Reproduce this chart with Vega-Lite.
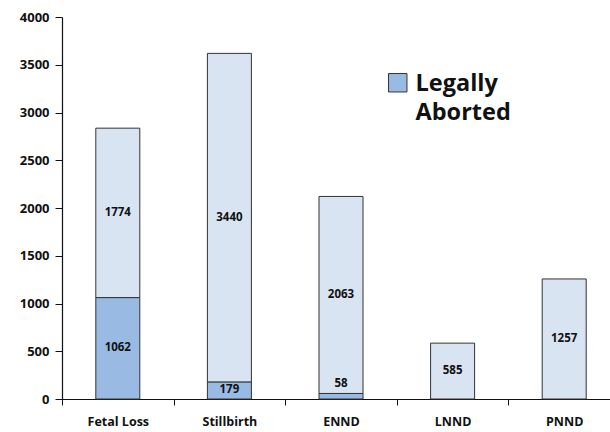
{
  "$schema": "https://vega.github.io/schema/vega-lite/v6.json",
  "width": 548,
  "height": 382,
  "autosize": {"type": "none"},
  "padding": {"left": 62, "top": 17, "right": 0, "bottom": 33},
  "background": "white",
  "config": {
    "view": {"stroke": null},
    "font": "Open Sans",
    "axis": {"labelFont": "Open Sans", "labelFontWeight": "bold", "labelColor": "#111", "domainColor": "#111", "tickColor": "#111", "grid": false, "title": null}
  },
  "data": {
    "values": [
      {"cause": "Fetal Loss", "group": "Legally Aborted", "value": 1062, "ord": 1},
      {"cause": "Fetal Loss", "group": "Other", "value": 1774, "ord": 2},
      {"cause": "Stillbirth", "group": "Legally Aborted", "value": 179, "ord": 1},
      {"cause": "Stillbirth", "group": "Other", "value": 3440, "ord": 2},
      {"cause": "ENND", "group": "Legally Aborted", "value": 58, "ord": 1},
      {"cause": "ENND", "group": "Other", "value": 2063, "ord": 2},
      {"cause": "LNND", "group": "Other", "value": 585, "ord": 2},
      {"cause": "PNND", "group": "Other", "value": 1257, "ord": 2}
    ]
  },
  "transform": [
    {"stack": "value", "groupby": ["cause"], "sort": [{"field": "ord"}], "as": ["v0", "v1"]},
    {"calculate": "datum.value < 100 ? datum.v1 + 100 : (datum.v0 + datum.v1) / 2", "as": "mid"}
  ],
  "encoding": {
    "x": {
      "field": "cause", "type": "nominal",
      "sort": ["Fetal Loss", "Stillbirth", "ENND", "LNND", "PNND"],
      "scale": {"range": [0, 558], "paddingInner": 0, "paddingOuter": 0},
      "axis": {"labelAngle": 0, "labelFontSize": 12.5, "tickBand": "extent", "tickSize": 6, "labelPadding": 10, "domainWidth": 1.2}
    }
  },
  "layer": [
    {
      "mark": {"type": "bar", "size": 44, "stroke": "#333", "strokeWidth": 1},
      "encoding": {
        "y": {"field": "v0", "type": "quantitative", "scale": {"domain": [0, 4000]},
          "axis": {"values": [0, 500, 1000, 1500, 2000, 2500, 3000, 3500, 4000], "format": "d", "labelFontSize": 13, "tickSize": 7, "labelPadding": 6, "domainWidth": 1.2}},
        "y2": {"field": "v1"},
        "fill": {
          "field": "group", "type": "nominal",
          "scale": {"domain": ["Legally Aborted", "Other"], "range": ["#99bbe3", "#d9e4f3"]},
          "legend": {
            "orient": "none", "legendX": 324, "legendY": 54,
            "values": ["Legally Aborted"], "title": null,
            "symbolType": "square", "symbolSize": 340, "symbolStrokeColor": "#333", "symbolStrokeWidth": 1, "symbolOpacity": 1,
            "labelExpr": "['Legally', 'Aborted']",
            "labelFont": "Open Sans", "labelFontSize": 23.5, "labelFontWeight": "bold", "labelColor": "#111", "labelOffset": 6, "labelBaseline": "top",
            "encoding": {"labels": {"dy": {"value": -11}, "lineHeight": {"value": 29}}}
          }
        }
      }
    },
    {
      "mark": {"type": "text", "fontSize": 11.5, "fontWeight": "bold", "color": "#111", "baseline": "middle"},
      "encoding": {
        "y": {"field": "mid", "type": "quantitative"},
        "text": {"field": "value", "type": "quantitative", "format": "d"}
      }
    }
  ]
}
